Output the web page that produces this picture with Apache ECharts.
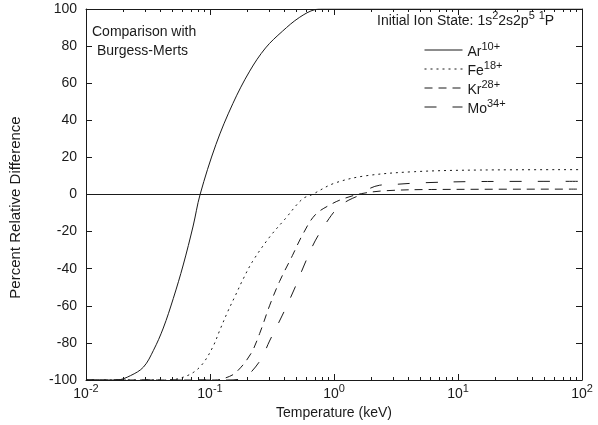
<!DOCTYPE html>
<html>
<head>
<meta charset="utf-8">
<script src="https://cdn.jsdelivr.net/npm/echarts@6/dist/echarts.min.js"></script>
<style>
  html, body { margin: 0; padding: 0; background: #fff; }
  #main { width: 598px; height: 425px; }
</style>
</head>
<body>
<div id="main"></div>
<script>
// ion names and charge states (legend)
var ions = ['Ar', 'Fe', 'Kr', 'Mo'];
var charges = ['10+', '18+', '28+', '34+'];

// temperature (keV) / percent relative difference
var arT = [0.01, 0.0177, 0.0229, 0.0291, 0.035, 0.042, 0.0506, 0.0608, 0.0731, 0.0832, 0.1117, 0.1528, 0.2089, 0.2805, 0.3837, 0.5248, 0.7047, 0.8, 100];
var arV = [-100, -100, -97.6, -93, -84, -72, -56, -38, -17, 0, 27, 49, 66.5, 79, 88, 95.4, 99.7, 100, 100];

var feT = [0.01, 0.0461, 0.0575, 0.0731, 0.0879, 0.1057, 0.1202, 0.1393, 0.1614, 0.1837, 0.2208, 0.302, 0.4055, 0.5546, 0.6668, 1.0, 1.77, 4.446, 15.28, 100];
var feV = [-100, -100, -99, -96, -91, -82, -73, -63, -54, -46, -36, -23, -13, -2.5, 0, 6, 10, 12.3, 13.2, 13.4];

var krT = [0.01, 0.1096, 0.1318, 0.1614, 0.2128, 0.2512, 0.302, 0.3631, 0.4613, 0.5546, 0.7047, 0.9638, 1.2246, 1.675, 2.559, 6.081, 100];
var krV = [-100, -100, -99, -96, -86, -75, -60, -47, -33, -22, -11, -5, -2, 0.5, 2, 2.7, 2.9];

var moT = [0.01, 0.1393, 0.1837, 0.2512, 0.302, 0.3837, 0.4786, 0.5754, 0.7047, 0.912, 1.096, 1.318, 1.585, 1.905, 2.333, 3.02, 5.058, 15.28, 100];
var moV = [-100, -100, -99, -90, -79, -65, -51, -38, -25, -13, -6.5, -3, -0.5, 3, 5, 5.4, 6.3, 7, 7.1];

var xTicks = [0.01, 0.1, 1, 10, 100];
var xExp = ['-2', '-1', '0', '1', '2'];

function pairs(t, v) {
    return t.map(function (x, i) { return [x, v[i]]; });
}

var ink = '#1a1a1a';
var font = 'Liberation Sans';
var dashes = [[0, 0], [2, 4], [8, 6], [12, 16]];
var seriesData = [pairs(arT, arV), pairs(feT, feV), pairs(krT, krV), pairs(moT, moV)];

var myChart = echarts.init(document.getElementById('main'));

var series = ions.map(function (ion, i) {
    var s = {
        name: ion + charges[i],
        type: 'line',
        showSymbol: false,
        symbol: 'none',
        smooth: 0.35,
        data: seriesData[i],
        lineStyle: {
            color: ink,
            width: 1,
            type: i === 0 ? 'solid' : dashes[i]
        },
        itemStyle: { color: ink }
    };
    if (i === 0) {
        s.markLine = {
            silent: true,
            symbol: 'none',
            label: { show: false },
            lineStyle: { color: ink, width: 1, type: 'solid' },
            data: [{ yAxis: 0 }]
        };
    }
    return s;
});
var names = series.map(function (s) { return s.name; });

var supRich = {
    b: { fontFamily: font, fontSize: 14, fontWeight: 'normal', color: ink, lineHeight: 18, verticalAlign: 'bottom' },
    sup: { fontFamily: font, fontSize: 11, fontWeight: 'normal', color: ink, lineHeight: 10, verticalAlign: 'top' }
};
var plainText = { fontFamily: font, fontSize: 14, fontWeight: 'normal', color: ink };

option = {
    animation: false,
    backgroundColor: '#fff',
    title: [
        {
            text: '{b|Initial Ion State: 1s}{sup|2}{b|2s2p}{sup|5}{b| }{sup|1}{b|P}',
            left: 377,
            top: 10,
            padding: 0,
            textStyle: { fontWeight: 'normal', rich: supRich }
        },
        { text: 'Comparison with', left: 92, top: 25, padding: 0, textStyle: plainText },
        { text: 'Burgess-Merts', left: 97, top: 44, padding: 0, textStyle: plainText }
    ],
    legend: {
        orient: 'vertical',
        left: 424,
        top: 41,
        padding: 0,
        itemWidth: 38,
        itemHeight: 14,
        itemGap: 1,
        data: names,
        formatter: function (name) {
            var i = names.indexOf(name);
            return '{b|' + ions[i] + '}{sup|' + charges[i] + '}';
        },
        itemStyle: { opacity: 0 },
        lineStyle: { width: 1 },
        textStyle: { rich: supRich },
        selectedMode: false
    },
    grid: {
        left: 82,
        right: 16,
        top: 9,
        bottom: 43,
        containLabel: false
    },
    xAxis: [
        {
            type: 'log',
            logBase: 10,
            min: 0.01,
            max: 100,
            name: 'Temperature (keV)',
            nameLocation: 'middle',
            nameGap: 26,
            nameTextStyle: { fontFamily: font, fontSize: 14, color: ink },
            axisLine: { show: true, onZero: false, lineStyle: { color: ink, width: 1 } },
            axisTick: { show: true, inside: true, length: 6, lineStyle: { color: ink } },
            minorTick: { show: true, splitNumber: 9, length: 3, lineStyle: { color: ink } },
            splitLine: { show: false },
            axisLabel: {
                margin: 3,
                formatter: function (v) {
                    var i = xTicks.indexOf(v);
                    return '{b|10}{sup|' + (i >= 0 ? xExp[i] : '') + '}';
                },
                rich: supRich
            }
        },
        {
            type: 'log',
            logBase: 10,
            min: 0.01,
            max: 100,
            position: 'top',
            axisLine: { show: true, onZero: false, lineStyle: { color: ink, width: 1 } },
            axisTick: { show: true, inside: true, length: 6, lineStyle: { color: ink } },
            minorTick: { show: true, splitNumber: 9, length: 3, lineStyle: { color: ink } },
            splitLine: { show: false },
            axisLabel: { show: false }
        }
    ],
    yAxis: [
        {
            type: 'value',
            min: -100,
            max: 100,
            interval: 20,
            name: 'Percent Relative Difference',
            nameLocation: 'middle',
            nameGap: 63,
            nameRotate: 90,
            nameTextStyle: { fontFamily: font, fontSize: 15, color: ink, padding: [0, 26, 0, 0] },
            axisLine: { show: true, onZero: false, lineStyle: { color: ink, width: 1 } },
            axisTick: { show: true, inside: true, length: 6, lineStyle: { color: ink } },
            splitLine: { show: false },
            axisLabel: { fontFamily: font, fontSize: 14, color: ink, margin: 9 }
        },
        {
            type: 'value',
            min: -100,
            max: 100,
            interval: 20,
            position: 'right',
            axisLine: { show: true, onZero: false, lineStyle: { color: ink, width: 1 } },
            axisTick: { show: true, inside: true, length: 6, lineStyle: { color: ink } },
            splitLine: { show: false },
            axisLabel: { show: false }
        }
    ],
    series: series
};
myChart.setOption(option);
</script>
</body>
</html>
